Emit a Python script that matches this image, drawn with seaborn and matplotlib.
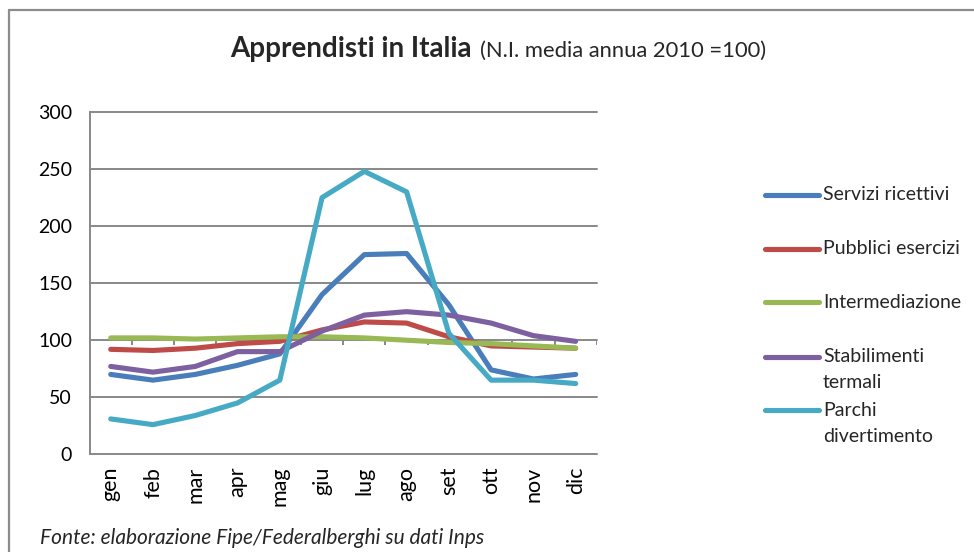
import numpy as np
import pandas as pd
import matplotlib
matplotlib.use("Agg")
import matplotlib.pyplot as plt
from matplotlib.lines import Line2D
import seaborn as sns

# Mesi e indici (N.I. media annua 2010 = 100)
mesi = ["gen", "feb", "mar", "apr", "mag", "giu", "lug", "ago", "set", "ott", "nov", "dic"]
servizi_ricettivi = [70, 65, 70, 78, 88, 140, 175, 176, 131, 74, 66, 70]
pubblici_esercizi = [92, 91, 93, 97, 99, 109, 116, 115, 103, 95, 94, 93]
intermediazione = [102, 102, 101, 102, 103, 103, 102, 100, 98, 97, 95, 93]
stabilimenti_termali = [77, 72, 77, 90, 90, 108, 122, 125, 122, 115, 104, 99]
parchi_divertimento = [31, 26, 34, 45, 65, 225, 248, 230, 106, 65, 65, 62]

serie = ["Servizi ricettivi", "Pubblici esercizi", "Intermediazione",
         "Stabilimenti\ntermali", "Parchi\ndivertimento"]
valori = [servizi_ricettivi, pubblici_esercizi, intermediazione,
          stabilimenti_termali, parchi_divertimento]
colori = ["#4A7EBB", "#BE4B48", "#98B954", "#7D60A0", "#46AAC5"]
yticks = [0, 50, 100, 150, 200, 250, 300]

df = pd.DataFrame([
    {"pos": i, "mese": m, "valore": v, "serie": s}
    for s, vals in zip(serie, valori)
    for i, (m, v) in enumerate(zip(mesi, vals))
])

sns.set_style("white")
plt.rcParams["font.family"] = ["Lato", "DejaVu Sans"]

W, H = 974, 552
fig = plt.figure(figsize=(W / 100, H / 100), dpi=100)
fx = lambda px: px / W
fy = lambda py: 1 - py / H

grid_col = "#888888"
ax = fig.add_axes([fx(89.6), fy(454.3), fx(507.2), (454.3 - 112.0) / H])

sns.lineplot(data=df, x="pos", y="valore", hue="serie", hue_order=serie,
             palette=colori, linewidth=3.7, legend=False, sort=False, ax=ax,
             solid_capstyle="round", solid_joinstyle="round")

ax.set_xlim(-0.5, 11.5)
ax.set_ylim(0, 300)
ax.set_yticks(yticks)
ax.set_xticks(range(len(mesi)))
ax.set_xticklabels(mesi, rotation=90)
ax.set_xlabel("")
ax.set_ylabel("")

ax.yaxis.grid(True, color=grid_col, linewidth=1.4)
ax.xaxis.grid(False)
ax.set_axisbelow(True)
for gl in ax.get_ygridlines():
    gl.set_clip_on(False)

for side in ["top", "right", "bottom"]:
    ax.spines[side].set_visible(False)
ax.spines["left"].set_color(grid_col)
ax.spines["left"].set_linewidth(1.4)

ax.tick_params(axis="y", length=3.6, width=1.4, color=grid_col, pad=9,
               labelsize=14, labelcolor="black")
ax.tick_params(axis="x", length=0, pad=9, labelsize=15.5, labelcolor="black")

# tacche di categoria sull'asse orizzontale che incrocia a 100
ax.vlines(np.arange(-0.5, 12, 1), 100 - 4.4, 100, color=grid_col,
          linewidth=1.4, zorder=1)

# titolo: parte in grassetto + sottotitolo
fig.canvas.draw()
r = fig.canvas.get_renderer()
t1 = fig.text(0, fy(57), "Apprendisti in Italia", fontsize=20,
              fontweight="bold", ha="left", va="baseline")
t2 = fig.text(0, fy(57), "(N.I. media annua 2010 =100)", fontsize=15.8,
              ha="left", va="baseline")
w1 = t1.get_window_extent(r).width
w2 = t2.get_window_extent(r).width
gap = 8
x0 = 498 - (w1 + gap + w2) / 2
t1.set_x(fx(x0))
t2.set_x(fx(x0 + w1 + gap))

# legenda
leg_y = [195, 249, 302, 357, 410]
for s, c, y in zip(serie, colori, leg_y):
    fig.add_artist(Line2D([fx(765), fx(819)], [fy(y), fy(y)], color=c,
                          linewidth=3.7, solid_capstyle="round"))
    for k, riga in enumerate(s.split("\n")):
        fig.text(fx(823), fy(y + 26 * k), riga, fontsize=14,
                 ha="left", va="center")

# fonte
fig.text(fx(40), fy(538), "Fonte: elaborazione Fipe/Federalberghi su dati Inps",
         fontsize=15, fontstyle="italic", ha="left", va="center")

# cornice del grafico
frame_col = "#8c8c8c"
fig.add_artist(Line2D([fx(8.5), fx(8.5)], [fy(10), 0], color=frame_col, linewidth=1.6))
fig.add_artist(Line2D([fx(8.5), 1], [fy(10), fy(10)], color=frame_col, linewidth=1.6))

fig.savefig("out.png", dpi=100)
